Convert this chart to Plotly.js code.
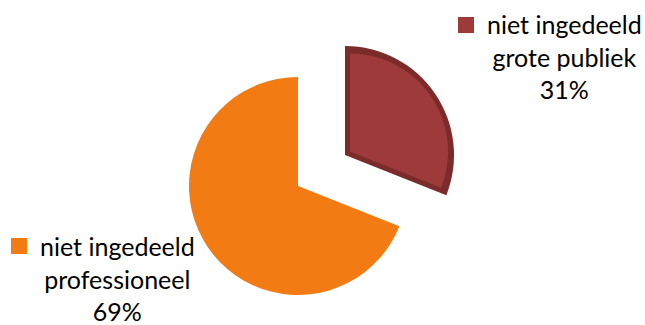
<!DOCTYPE html>
<html>
<head>
<meta charset="utf-8">
<script src="https://cdn.plot.ly/plotly-3.0.1.min.js"></script>
<style>html,body{margin:0;padding:0;background:#fff;}#chart{width:645px;height:325px;}</style>
</head>
<body>
<div id="chart"></div>
<script>
const categories = ["niet ingedeeld grote publiek", "niet ingedeeld professioneel"];
const labelLines = [["niet ingedeeld", "grote publiek"], ["niet ingedeeld", "professioneel"]];
const values = [31, 69];
const sliceColors = ["#9E3B3A", "#F27B13"];
const bevelColor = "#7A2B2A";

const W = 645, H = 325;
function dom(cx, cy, r) {
  return { x: [(cx - r) / W, (cx + r) / W], y: [(H - cy - r) / H, (H - cy + r) / H] };
}
const base = { type: "pie", values: values, labels: categories, sort: false, direction: "clockwise",
  rotation: 0, textinfo: "none", hoverinfo: "skip", showlegend: false };

const R = 109;
const traces = [
  Object.assign({}, base, { domain: dom(298, 186, R), marker: { colors: ["rgba(0,0,0,0)", sliceColors[1]] } }),
  Object.assign({}, base, { domain: dom(345, 155, R), marker: { colors: [bevelColor, "rgba(0,0,0,0)"] } }),
  Object.assign({}, base, { domain: dom(350, 151.6, 98), marker: { colors: [sliceColors[0], "rgba(0,0,0,0)"] } })
];

const total = values.reduce((a, b) => a + b, 0);
const pct = values.map(v => Math.round(100 * v / total) + "%");
const font = { family: "Lato, 'Open Sans', sans-serif", size: 25, color: "#000" };
const labelPos = [{ x: 564, y: 57, kx: 466 }, { x: 117, y: 278, kx: 19 }];
const annotations = values.map((v, i) => ({
  xref: "paper", yref: "paper", x: labelPos[i].x / W, y: 1 - labelPos[i].y / H,
  xanchor: "center", yanchor: "middle", align: "center", showarrow: false,
  text: labelLines[i].concat([pct[i]]).join("<br>"), font: font
}));
const shapes = values.map((v, i) => ({
  type: "rect", xref: "paper", yref: "paper",
  x0: (labelPos[i].kx - 8) / W, x1: (labelPos[i].kx + 8) / W,
  y0: 1 - (labelPos[i].y - 32 + 8) / H, y1: 1 - (labelPos[i].y - 32 - 8) / H,
  fillcolor: sliceColors[i], line: { width: 0 }
}));

Plotly.newPlot("chart", traces, {
  width: W, height: H, margin: { l: 0, r: 0, t: 0, b: 0 },
  paper_bgcolor: "#fff", annotations: annotations, shapes: shapes
}, { staticPlot: true });
</script>
</body>
</html>
